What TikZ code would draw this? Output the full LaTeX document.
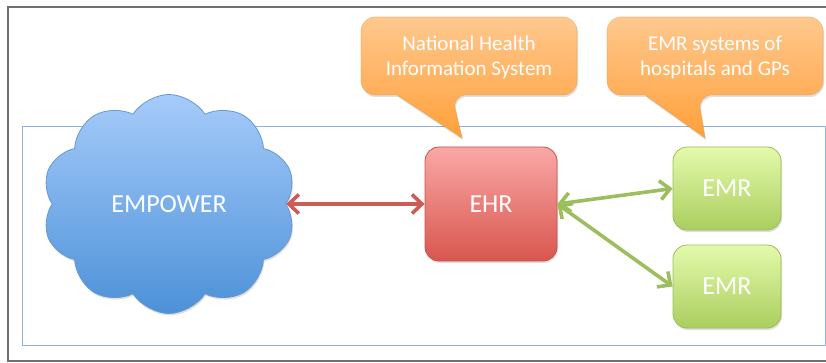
\documentclass[tikz,border=0pt]{standalone}
\usepackage{fontspec}
\setmainfont{Carlito}
\usetikzlibrary{shapes.symbols,arrows.meta,shadows}
\definecolor{framegray}{RGB}{112,112,112}
\definecolor{panelblue}{RGB}{141,176,222}
\definecolor{cloudtop}{RGB}{166,203,250}
\definecolor{cloudbot}{RGB}{76,145,216}
\definecolor{cloudline}{RGB}{104,152,208}
\definecolor{ehrtop}{RGB}{250,168,166}
\definecolor{ehrbot}{RGB}{216,86,78}
\definecolor{ehrline}{RGB}{196,84,78}
\definecolor{emrtop}{RGB}{228,250,172}
\definecolor{emrbot}{RGB}{170,206,94}
\definecolor{emrline}{RGB}{156,190,90}
\definecolor{calltop}{RGB}{255,200,142}
\definecolor{callbot}{RGB}{255,160,58}
\definecolor{redarrow}{RGB}{206,92,86}
\definecolor{greenarrow}{RGB}{157,190,92}
\begin{document}
\begin{tikzpicture}[x=1pt,y=-1pt,
    soft/.style={drop shadow={opacity=0.25,shadow xshift=1pt,shadow yshift=-2pt}},
    sysbox/.style={soft,rounded corners=14pt,draw,line width=0.8pt,text=white,
        font=\fontsize{26}{30}\selectfont,inner sep=0pt},
    callout/.style={soft,top color=calltop,bottom color=callbot,draw=callbot!90!black,
        draw opacity=0.4,line width=0.6pt},
    calltext/.style={text=white,align=center,font=\fontsize{21}{25}\selectfont},
    link/.style={line width=3.6pt,{Straight Barb[length=10pt,width=19pt]}-{Straight Barb[length=10pt,width=19pt]}}]
    \useasboundingbox (0,0) rectangle (826,363);
    \draw [framegray,line width=1.6pt] (826,7) -- (8,7) -- (8,361) -- (826,361);
    \draw [panelblue,line width=0.8pt] (22,126) rectangle (825,345);
    \node [cloud,cloud puffs=10,cloud puff arc=115,aspect=1.16,soft,
        minimum width=254pt,minimum height=219pt,top color=cloudtop,bottom color=cloudbot,
        draw=cloudline,line width=0.8pt,text=white,font=\fontsize{26}{30}\selectfont]
        (empower) at (169,204) {EMPOWER};
    \node [sysbox,draw=ehrline,top color=ehrtop,bottom color=ehrbot,
        minimum width=132pt,minimum height=114pt] (ehr) at (491,204) {EHR};
    \node [sysbox,draw=emrline,top color=emrtop,bottom color=emrbot,
        minimum width=108pt,minimum height=83pt] (emra) at (727,188.5) {EMR};
    \node [sysbox,draw=emrline,top color=emrtop,bottom color=emrbot,
        minimum width=108pt,minimum height=83pt] (emrb) at (727,286.5) {EMR};
    \path [callout] (361,56) [rounded corners=14pt] |- (577,17) |- (452,95)
        [sharp corners] -- (462,138) -- (397,95) [rounded corners=14pt] -| (361,56) -- cycle;
    \path [callout] (607,56) [rounded corners=14pt] |- (823,17) |- (698,95)
        [sharp corners] -- (705,138) -- (645,95) [rounded corners=14pt] -| (607,56) -- cycle;
    \node [calltext] (nhis) at (469,57) {National Health\\Information System};
    \node [calltext] (emrsys) at (715,57) {EMR systems of\\hospitals and GPs};
    \draw [link,redarrow] (empower.east) -- (ehr.west);
    \draw [link,greenarrow] (ehr.east) -- (emra.west);
    \draw [link,greenarrow] (ehr.east) -- (emrb.west);
\end{tikzpicture}
\end{document}
